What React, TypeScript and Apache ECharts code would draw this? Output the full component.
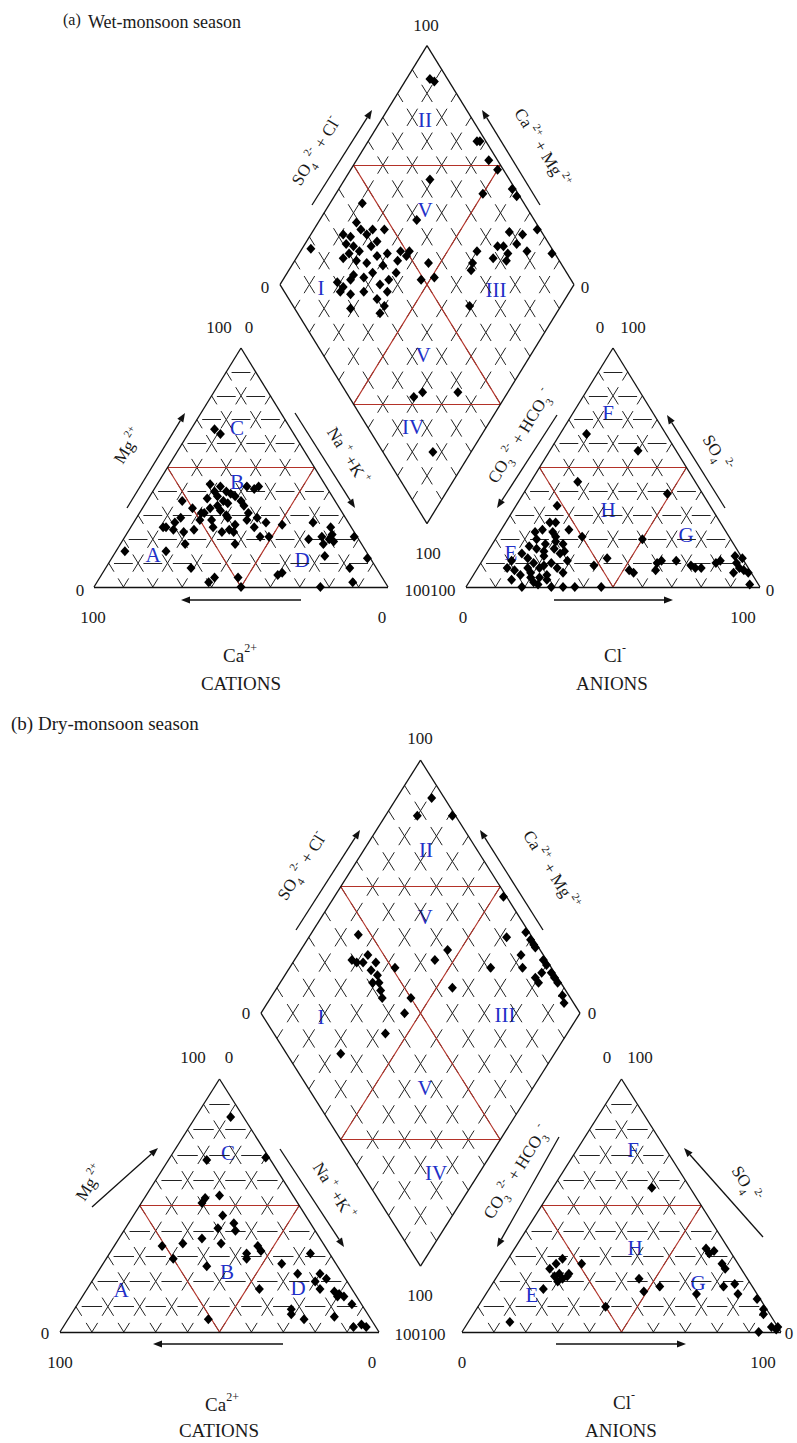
import React, { useEffect, useRef } from "react";
import * as echarts from "echarts";

// ---------------- DATA (percentages) ----------------
// Cation triangle points: [Mg2+ %, Na+ + K+ %]  (Ca2+ = 100 - both)
const wetCations = [
  [66, 8], [64, 11], [15, 3], [15, 17], [25, 11], [27, 14], [29, 15], [36, 12], [33, 17], [31, 21],
  [28, 22], [24, 22], [43, 18], [40, 21], [37, 20], [38, 23], [42, 22], [36, 26], [34, 25], [31, 22],
  [28, 26], [25, 28], [29, 31], [24, 34], [23, 36], [18, 39], [36, 32], [34, 34], [31, 37], [28, 38],
  [41, 34], [42, 35], [42, 31], [29, 41], [25, 42], [27, 45], [39, 27], [23, 32], [8, 29], [2, 38],
  [4, 39], [4, 47], [0, 50], [21, 46], [21, 49], [26, 51], [5, 60], [6, 61], [27, 61], [21, 67],
  [20, 70], [22, 70], [19, 72], [18, 69], [20, 63], [25, 68], [13, 72], [21, 78], [12, 87], [8, 83],
  [0, 77], [2, 87], [25, 12], [24, 15], [23, 19], [18, 22], [35, 28], [38, 29], [33, 23], [30, 30],
  [26, 35], [40, 25], [32, 27],
];
// Anion triangle points: [SO4 2- %, Cl- %]  (CO3 2- + HCO3- = 100 - both)
const wetAnions = [
  [64, 9], [57, 30], [44, 16], [39, 49], [34, 14], [21, 29], [20, 50], [12, 42], [9, 39], [7, 52], [0, 46],
  [23, 12], [24, 14], [27, 15], [27, 17], [23, 18], [24, 23], [17, 13], [16, 16], [18, 18], [16, 22],
  [14, 25], [13, 20], [10, 24], [8, 21], [8, 10], [7, 13], [5, 16], [8, 17], [4, 20], [8, 27], [6, 30],
  [4, 23], [3, 26], [0, 19], [0, 33], [0, 37], [0, 29], [11, 29], [11, 10], [20, 14], [19, 21], [15, 19],
  [12, 15], [10, 18], [6, 19], [3, 14], [2, 22], [14, 12], [21, 20], [18, 24], [9, 22], [5, 25], [1, 24],
  [15, 26],
  [10, 60], [11, 61], [11, 66], [9, 72], [8, 74], [8, 76], [10, 80], [11, 81], [13, 85], [10, 87],
  [8, 89], [7, 91], [6, 93], [6, 88], [1, 96], [7, 61], [6, 54], [12, 88],
];
// Diamond points: [Ca2+ + Mg2+ %, SO4 2- + Cl- %]
const wetDiamond = [
  [92, 94], [90, 95], [63, 97], [62, 98], [55, 97], [50, 98], [71, 73], [50, 88], [41, 99], [38, 99],
  [67, 60], [89, 45], [97, 18], [24, 99], [33, 89], [28, 93], [28, 89], [32, 84], [29, 84], [34, 82],
  [33, 78], [28, 82], [23, 91], [40, 74], [39, 70], [38, 68], [14, 99], [31, 60], [54, 55], [53, 49],
  [49, 54], [66, 48], [63, 51], [31, 22], [29, 26], [17, 38], [13, 17],
  [87, 39], [84, 39], [86, 34], [86, 31], [83, 33], [81, 40], [80, 43], [76, 42], [77, 39], [80, 34],
  [83, 30], [84, 27], [79, 31], [75, 34], [73, 39], [70, 43], [69, 39], [71, 34], [73, 30], [77, 27],
  [77, 25], [78, 21], [78, 19], [74, 22], [70, 27], [66, 34], [64, 38], [63, 42], [62, 35], [64, 30],
  [60, 31], [60, 28], [65, 45], [63, 49], [71, 19], [81, 20], [76, 47], [89, 32],
];

const dryCations = [
  [85, 11], [68, 12], [69, 30], [54, 23], [53, 19], [51, 19], [46, 28], [43, 33], [40, 35], [41, 29],
  [37, 26], [35, 33], [34, 45], [32, 47], [31, 43], [29, 44], [34, 15], [35, 21], [29, 21], [26, 33],
  [27, 56], [31, 63], [23, 63], [23, 70], [21, 73], [20, 70], [17, 73], [16, 78], [15, 80], [14, 80],
  [14, 82], [17, 54], [11, 86], [9, 68], [7, 69], [5, 74], [6, 83], [2, 91], [3, 93], [2, 95], [5, 44],
];
const dryAnions = [
  [57, 31], [27, 24], [29, 17], [27, 16], [25, 15], [23, 19], [21, 21], [20, 20], [22, 22], [22, 18],
  [17, 17], [23, 22], [4, 13], [10, 40], [21, 45], [16, 49], [18, 53], [33, 60], [32, 63], [31, 62],
  [27, 68], [25, 70], [15, 66], [18, 73], [19, 76], [15, 79], [13, 86], [9, 90], [7, 91], [2, 96],
  [1, 98], [0, 93], [2, 98],
];
const dryDiamond = [
  [89, 96], [90, 88], [79, 99], [47, 99], [85, 46], [38, 92], [33, 99], [30, 99], [28, 99], [27, 99],
  [22, 99], [20, 99], [17, 99], [15, 99], [13, 99], [9, 98], [7, 97], [20, 96], [21, 93], [19, 93],
  [30, 93], [27, 91], [37, 81], [82, 39], [80, 40], [78, 42], [78, 45], [74, 46], [74, 43], [71, 44],
  [71, 41], [69, 43], [67, 42], [65, 41], [67, 51], [54, 71], [56, 65], [45, 65], [56, 50], [55, 45],
  [57, 35], [67, 17],
];

const diamondZones = ["I", "II", "III", "IV", "V", "V"];
const cationZones = ["A", "B", "C", "D"];
const anionZones = ["E", "F", "G", "H"];
const titles = ["Wet-monsoon season", "(b) Dry-monsoon season"];

// ---------------- LAYOUT ----------------
const SERIF = '"Liberation Serif", "Times New Roman", "DejaVu Serif", serif';
const TXT = "#1a1a1a";
const BLUE = "#2230c8";
const DEG = Math.PI / 180;
const H = 50 * Math.sqrt(3);

const PANELS = [
  { x0: 94, y0: 587, s: 294, h: 239, gap: 78 },
  { x0: 60, y0: 1332, s: 319, h: 253, gap: 83 },
];

function geom(p) {
  const G = p.gap / (p.s / 100);
  const yb = (G / 2) * Math.sqrt(3);
  const ytop = yb + 2 * H;
  return { G, yb, ytop, ux: p.s / 100, uy: p.h / H, W: 200 + G };
}

function piece(a, b, t0, t1) {
  return [
    [a[0] + (b[0] - a[0]) * t0, a[1] + (b[1] - a[1]) * t0],
    [a[0] + (b[0] - a[0]) * t1, a[1] + (b[1] - a[1]) * t1],
  ];
}

function buildPanel(idx, cations, anions, diamond) {
  const p = PANELS[idx];
  const g = geom(p);
  const grey = [];
  const red = [];
  const outline = [];
  const diag = (a, b) => {
    grey.push({ coords: piece(a, b, 0, 0.36) });
    grey.push({ coords: piece(a, b, 0.64, 1) });
  };
  const hor = (a, b) => grey.push({ coords: piece(a, b, 0.18, 0.82) });
  const seg = (arr, a, b) => arr.push({ coords: [a, b] });

  const tri = (ox) => {
    for (let k = 1; k <= 9; k++) {
      const y = (k * H) / 10;
      for (let c = 0; c < 10 - k; c++) hor([ox + 5 * k + 10 * c, y], [ox + 5 * k + 10 * (c + 1), y]);
      for (let c = 0; c < 10 - k; c++) {
        diag([ox + 10 * k + 5 * c, (c * H) / 10], [ox + 10 * k + 5 * (c + 1), ((c + 1) * H) / 10]);
        diag([ox + 100 - 10 * k - 5 * c, (c * H) / 10], [ox + 100 - 10 * k - 5 * (c + 1), ((c + 1) * H) / 10]);
      }
    }
    const L = [ox, 0], R = [ox + 100, 0], T = [ox + 50, H];
    seg(outline, L, R); seg(outline, R, T); seg(outline, T, L);
    const m1 = [ox + 25, H / 2], m2 = [ox + 75, H / 2], m3 = [ox + 50, 0];
    seg(red, m1, m2); seg(red, m2, m3); seg(red, m3, m1);
  };
  tri(0);
  tri(100 + g.G);

  const B = [100 + g.G / 2, g.yb];
  const P = (a, b) => [B[0] - 50 * a + 50 * b, B[1] + H * (a + b)];
  for (let k = 1; k <= 9; k++) {
    for (let c = 0; c < 10; c++) {
      diag(P(k / 10, c / 10), P(k / 10, (c + 1) / 10));
      diag(P(c / 10, k / 10), P((c + 1) / 10, k / 10));
    }
  }
  seg(outline, P(0, 0), P(1, 0)); seg(outline, P(1, 0), P(1, 1));
  seg(outline, P(1, 1), P(0, 1)); seg(outline, P(0, 1), P(0, 0));
  seg(red, P(1, 0.5), P(0.5, 1)); seg(red, P(0.5, 0), P(0, 0.5));
  seg(red, P(1, 0.5), P(0, 0.5)); seg(red, P(0.5, 1), P(0.5, 0));

  const pts = [];
  cations.forEach(([mg, na]) => pts.push([na + mg / 2, (mg / 100) * H]));
  anions.forEach(([so4, cl]) => pts.push([100 + g.G + cl + so4 / 2, (so4 / 100) * H]));
  diamond.forEach(([cm, sc]) => pts.push(P(cm / 100, sc / 100)));

  const grid = {
    left: p.x0,
    top: p.y0 - g.ytop * g.uy,
    width: g.W * g.ux,
    height: g.ytop * g.uy,
  };
  const xAxis = { gridIndex: idx, type: "value", min: 0, max: g.W, show: false };
  const yAxis = { gridIndex: idx, type: "value", min: 0, max: g.ytop, show: false };
  const common = { coordinateSystem: "cartesian2d", xAxisIndex: idx, yAxisIndex: idx, polyline: false, silent: true, clip: false, animation: false };
  const series = [
    { ...common, type: "lines", data: grey, z: 1, lineStyle: { color: "#222", width: 1, opacity: 1 } },
    { ...common, type: "lines", data: red, z: 2, lineStyle: { color: "#b33228", width: 1.1, opacity: 1 } },
    { ...common, type: "lines", data: outline, z: 2, lineStyle: { color: "#111", width: 1.3, opacity: 1 } },
    {
      type: "scatter", xAxisIndex: idx, yAxisIndex: idx, data: pts, symbol: "diamond", symbolSize: [9, 10],
      itemStyle: { color: "#000", opacity: 1 }, z: 3, clip: false, silent: true, animation: false,
    },
  ];
  return { grid, xAxis, yAxis, series };
}

// ---------------- graphic helpers ----------------
function txt(x, y, text, size = 17, align = "center", color = TXT) {
  return {
    type: "text", x, y, silent: true,
    style: { text, fill: color, fontSize: size, fontFamily: SERIF, align, verticalAlign: "middle" },
  };
}
function richTxt(x, y, text, size, rotDeg = 0) {
  const small = Math.round(size * 0.62);
  return {
    type: "text", x, y, rotation: rotDeg * DEG, silent: true,
    style: {
      text, fill: TXT, fontSize: size, fontFamily: SERIF, align: "center", verticalAlign: "middle",
      rich: {
        b: { fontSize: size, fontFamily: SERIF, fill: TXT, lineHeight: size + 8 },
        sup: { fontSize: small, fontFamily: SERIF, fill: TXT, verticalAlign: "top", lineHeight: small + 1 },
        sub: { fontSize: small, fontFamily: SERIF, fill: TXT, verticalAlign: "bottom", lineHeight: small + 1 },
      },
    },
  };
}
function arrow(x1, y1, x2, y2) {
  const a = Math.atan2(y2 - y1, x2 - x1);
  const L = 9, Wd = 3.5;
  const cx = Math.cos(a), sy = Math.sin(a);
  const bx = x2 - L * cx, by = y2 - L * sy;
  return [
    { type: "line", silent: true, shape: { x1, y1, x2: bx, y2: by }, style: { stroke: "#111", lineWidth: 1.3 } },
    {
      type: "polygon", silent: true,
      shape: { points: [[x2, y2], [bx - Wd * sy, by + Wd * cx], [bx + Wd * sy, by - Wd * cx]] },
      style: { fill: "#111" },
    },
  ];
}

const LBL = {
  so4cl: "{b|SO}{sub|4}{sup| 2-}{b| + Cl}{sup|-}",
  camg: "{b|Ca}{sup| 2+}{b| + Mg}{sup| 2+}",
  mg: "{b|Mg}{sup| 2+}",
  nak: "{b|Na}{sup| +}{b| +K}{sup| +}",
  co3: "{b|CO}{sub|3}{sup| 2-}{b| + HCO}{sub|3}{sup| -}",
  so4: "{b|SO}{sub|4}{sup| 2-}",
  ca: "{b|Ca}{sup|2+}",
  cl: "{b|Cl}{sup|-}",
};

function panelGraphics(L) {
  const els = [];
  L.nums.forEach(([x, y, t]) => els.push(txt(x, y, t, 17)));
  L.zones.forEach(([x, y], i) => els.push(txt(x, y, L.zoneNames[i], 21, "center", BLUE)));
  L.rich.forEach(([x, y, t, size, rot]) => els.push(richTxt(x, y, t, size, rot)));
  L.arrows.forEach(([x1, y1, x2, y2]) => arrow(x1, y1, x2, y2).forEach((e) => els.push(e)));
  els.push(txt(L.cations[0], L.cations[1], "CATIONS", 19));
  els.push(txt(L.anions[0], L.anions[1], "ANIONS", 19));
  return els;
}

const zoneNames = [...diamondZones, ...cationZones, ...anionZones];

const LAYOUT_A = {
  nums: [
    [426, 25, "100"], [265, 287, "0"], [585, 287, "0"],
    [219, 327, "100"], [249, 327, "0"], [600, 327, "0"], [633, 327, "100"],
    [80, 590, "0"], [93, 617, "100"], [382, 617, "0"],
    [428, 553, "100"], [430, 590, "100100"],
    [463, 617, "0"], [743, 617, "100"], [770, 590, "0"],
  ],
  zones: [
    [321, 288], [425, 120], [496, 290], [413, 427], [425, 210], [423, 355],
    [153, 555], [237, 482], [237, 428], [302, 560],
    [511, 553], [608, 413], [686, 535], [608, 510],
  ],
  zoneNames,
  rich: [
    [316, 151, LBL.so4cl, 17, 58.4], [542, 148, LBL.camg, 17, -58.4],
    [128, 446, LBL.mg, 17, 58.4], [348, 456, LBL.nak, 17, -58.4],
    [520, 436, LBL.co3, 17, 58.4], [717, 453, LBL.so4, 17, -58.4],
    [240, 655, LBL.ca, 19, 0], [615, 655, LBL.cl, 19, 0],
  ],
  arrows: [
    [312, 205, 372, 110], [540, 205, 482, 110], [127, 508, 185, 413], [295, 413, 355, 508],
    [557, 415, 497, 508], [725, 508, 667, 415], [301, 600, 181, 600], [554, 600, 673, 600],
  ],
  cations: [241, 683], anions: [612, 683],
};

const LAYOUT_B = {
  nums: [
    [420, 738, "100"], [246, 1013, "0"], [592, 1013, "0"],
    [193, 1057, "100"], [229, 1057, "0"], [607, 1057, "0"], [640, 1057, "100"],
    [45, 1333, "0"], [60, 1362, "100"], [372, 1362, "0"],
    [420, 1295, "100"], [420, 1334, "100100"],
    [462, 1362, "0"], [763, 1362, "100"], [789, 1333, "0"],
  ],
  zones: [
    [321, 1017], [426, 850], [505, 1015], [436, 1173], [425, 917], [425, 1088],
    [121, 1290], [227, 1272], [228, 1153], [298, 1288],
    [532, 1295], [633, 1150], [698, 1283], [635, 1248],
  ],
  zoneNames,
  rich: [
    [302, 866, LBL.so4cl, 17, 57.8], [551, 870, LBL.camg, 17, -57.8],
    [90, 1183, LBL.mg, 17, 57.8], [334, 1191, LBL.nak, 17, -57.8],
    [516, 1172, LBL.co3, 17, 57.8], [746, 1184, LBL.so4, 17, -57.8],
    [222, 1404, LBL.ca, 19, 0], [624, 1402, LBL.cl, 19, 0],
  ],
  arrows: [
    [296, 930, 360, 830], [543, 930, 480, 830], [92, 1207, 158, 1148], [280, 1149, 344, 1247],
    [559, 1137, 497, 1247], [763, 1237, 684, 1148], [283, 1344, 153, 1344], [556, 1344, 686, 1344],
  ],
  cations: [219, 1430], anions: [621, 1430],
};

function buildOption() {
  const a = buildPanel(0, wetCations, wetAnions, wetDiamond);
  const b = buildPanel(1, dryCations, dryAnions, dryDiamond);
  const graphic = [
    txt(63, 19, "(a)", 16, "left"),
    txt(88, 22, titles[0], 18, "left"),
    txt(11, 723, titles[1], 19, "left"),
    ...panelGraphics(LAYOUT_A),
    ...panelGraphics(LAYOUT_B),
  ];
  return {
    animation: false,
    backgroundColor: "#fff",
    grid: [a.grid, b.grid],
    xAxis: [a.xAxis, b.xAxis],
    yAxis: [a.yAxis, b.yAxis],
    series: [...a.series, ...b.series],
    graphic,
  };
}

export default function App() {
  const ref = useRef(null);
  useEffect(() => {
    const chart = echarts.init(ref.current, null, { renderer: "svg" });
    chart.setOption(buildOption());
    return () => chart.dispose();
  }, []);
  return (
    <div
      ref={ref}
      style={{ position: "absolute", left: 0, top: 0, width: 797, height: 1443, background: "#fff" }}
    />
  );
}
